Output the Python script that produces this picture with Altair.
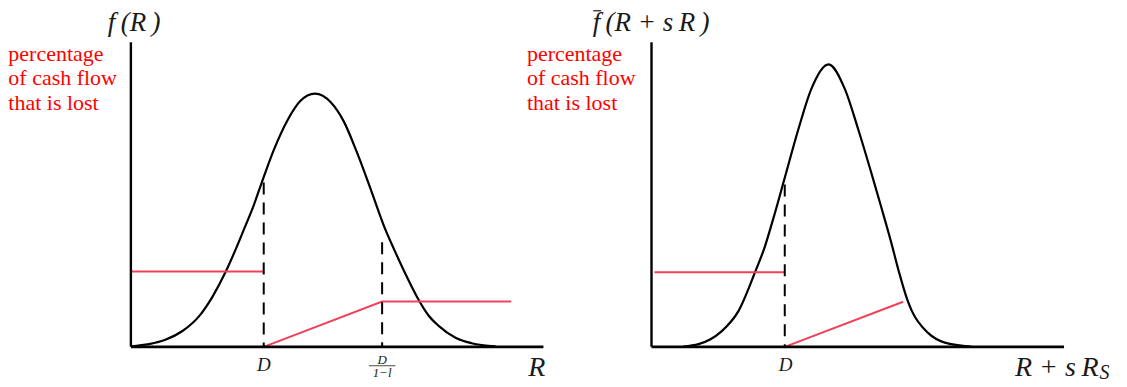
import altair as alt
import pandas as pd

SERIF = "Liberation Serif, Times New Roman, DejaVu Serif, serif"
RED_TEXT = "#ff0000"
RED_LINE = "#f0405a"
INK = "#1a1a1a"

# Both panels use the same units: x 0..100 along each horizontal axis, y 0..100 up each vertical axis.
# ---------- left panel: f(R)
L_CURVE_X = [0, 4.4, 8.5, 12.5, 16.5, 19.8, 23.0, 25.4, 27.6, 29.4, 32.0, 34.7, 38.1, 41.0, 44.6,
             48.5, 51.6, 54.8, 58.4, 61.6, 63.8, 66.6, 69.6, 72.2, 74.6, 78.7, 82.6, 88.4]
L_CURVE_Y = [0.2, 0.9, 2.4, 5.2, 10.0, 16.5, 24.7, 32.0, 39.2, 45.1, 55.0, 64.8, 74.7, 80.6, 83.1,
             80.2, 74.0, 63.8, 50.7, 38.8, 32.0, 23.8, 15.8, 10.2, 6.9, 3.0, 1.2, 0.2]
L_RED_SEG = ["flat", "flat", "ramp", "ramp", "ramp"]
L_RED_X = [0, 32.2, 32.2, 60.9, 92.2]
L_RED_Y = [24.7, 24.7, 0, 14.9, 14.9]
L_DASH_X = [32.2, 60.9]
L_DASH_TOP = [53.9, 34.3]

# ---------- right panel: f-bar(R + sR)
R_CURVE_X = [7.7, 11.4, 14.3, 16.9, 21.1, 25.1, 27.5, 29.5, 32.3, 35.6, 38.7, 42.9, 46.9, 50.1,
             53.3, 55.7, 58.1, 60.0, 62.0, 63.1, 67.1, 71.1, 77.5]
R_CURVE_Y = [0.1, 0.9, 2.5, 5.0, 11.8, 24.5, 33.0, 42.0, 55.5, 71.4, 84.5, 92.7, 84.5, 71.4,
             57.0, 45.8, 34.3, 24.5, 15.5, 11.8, 4.5, 1.4, 0.1]
R_RED_SEG = ["flat", "flat", "ramp", "ramp"]
R_RED_X = [0.7, 32.3, 32.3, 61.0]
R_RED_Y = [24.5, 24.5, 0, 14.8]
R_DASH_X = [32.3]
R_DASH_TOP = [53.3]

# ---------- axes of each panel
AXIS_LEN = 100

# ---------- texts
LOSS_LINES = ["percentage", "of cash flow", "that is lost"]
LOSS_Y = [93.7, 85.8, 77.6]
L_LOSS_X = -29.7
R_LOSS_X = -30.2

L_TITLE = ["f\u2009(R\u2009)"]
L_TITLE_X = [0.8]
R_TITLE = ["f\u2009(R + s\u2009R\u2009)"]
R_TITLE_X = [-0.1]
TITLE_Y = [103.5]
R_TITLE_BAR_X = [-14.1, -12.2]
R_TITLE_BAR_Y = [110.3, 110.3]

L_TICK_X = [32.2]
R_TICK_X = [32.5]
TICK_LABEL = ["D"]
TICK_Y = [-7.8]

FRAC_NUM = ["D"]
FRAC_DEN = ["1\u2212l"]
FRAC_X = [60.9]
FRAC_NUM_Y = [-5.6]
FRAC_DEN_Y = [-10.0]
FRAC_BAR_X = [57.7, 64.1]
FRAC_BAR_Y = [-6.2, -6.2]

L_AXIS_LABEL = ["R"]
L_AXIS_LABEL_X = [98.4]
R_AXIS_LABEL = ["R + s\u2009R"]
R_AXIS_LABEL_X = [88.1]
AXIS_LABEL_Y = [-9.5]
R_AXIS_SUB = ["S"]
R_AXIS_SUB_X = [108.6]
R_AXIS_SUB_Y = [-10.6]

# layout: where each panel's origin sits along the shared x scale
PANEL_OFFSET = {"left": 0.0, "right": 126.2}
X_DOMAIN = [0, 226.2]
VIEW_W, VIEW_H = 934, 305

XS = alt.Scale(domain=X_DOMAIN, nice=False, zero=False)
YS = alt.Scale(domain=[0, 100], nice=False, zero=False)


def X(field="xp"):
    return alt.X(f"{field}:Q", scale=XS, axis=None)


def Y(field="y"):
    return alt.Y(f"{field}:Q", scale=YS, axis=None)


def frame(panel, **cols):
    df = pd.DataFrame(cols)
    for c in list(df.columns):
        if c.startswith("x"):
            df[c.replace("x", "xp", 1)] = df[c] + PANEL_OFFSET[panel]
    return df


def text_layer(panel, xs, ys, labels, size, color=INK, italic=True, align="center"):
    df = frame(panel, x=xs, y=ys, label=labels)
    kw = dict(font=SERIF, fontSize=size, color=color, align=align, baseline="alphabetic")
    if italic:
        kw["fontStyle"] = "italic"
    return alt.Chart(df).mark_text(**kw).encode(x=X(), y=Y(), text="label:N")


def small_line(panel, xs, ys, width):
    return alt.Chart(frame(panel, x=xs, y=ys)).mark_line(
        color=INK, strokeWidth=width).encode(x=X(), y=Y())


def panel_layers(panel, cx, cy, rseg, rx, ry, dx, dtop, loss_x):
    axes_h = alt.Chart(frame(panel, x=[0], x2=[AXIS_LEN], y=[0])).mark_rule(
        color="black", strokeWidth=2.6).encode(x=X(), x2=alt.X2("xp2:Q"), y=Y())
    axes_v = alt.Chart(frame(panel, x=[0], y=[0], y2=[AXIS_LEN])).mark_rule(
        color="black", strokeWidth=2.4).encode(x=X(), y=Y(), y2=alt.Y2("y2:Q"))
    curve = alt.Chart(frame(panel, x=cx, y=cy)).mark_line(
        color="black", strokeWidth=2.2, interpolate="monotone").encode(x=X(), y=Y())
    red = alt.Chart(frame(panel, x=rx, y=ry, seg=rseg)).mark_line(
        color=RED_LINE, strokeWidth=2).encode(x=X(), y=Y(), detail="seg:N")
    dash = alt.Chart(frame(panel, x=dx, top=dtop, bottom=[0] * len(dx))).mark_rule(
        color="black", strokeWidth=2, strokeDash=[12, 8]).encode(
        x=X(), y=Y("top"), y2=alt.Y2("bottom:Q"))
    loss = text_layer(panel, [loss_x] * 3, LOSS_Y, LOSS_LINES, 22, color=RED_TEXT,
                      italic=False, align="left")
    return [curve, red, dash, axes_h, axes_v, loss]


layers = panel_layers("left", L_CURVE_X, L_CURVE_Y, L_RED_SEG, L_RED_X, L_RED_Y,
                      L_DASH_X, L_DASH_TOP, L_LOSS_X)
layers += [
    text_layer("left", L_TITLE_X, TITLE_Y, L_TITLE, 27),
    text_layer("left", L_TICK_X, TICK_Y, TICK_LABEL, 19),
    text_layer("left", FRAC_X, FRAC_NUM_Y, FRAC_NUM, 13),
    text_layer("left", FRAC_X, FRAC_DEN_Y, FRAC_DEN, 13),
    small_line("left", FRAC_BAR_X, FRAC_BAR_Y, 0.8),
    text_layer("left", L_AXIS_LABEL_X, AXIS_LABEL_Y, L_AXIS_LABEL, 28),
]
layers += panel_layers("right", R_CURVE_X, R_CURVE_Y, R_RED_SEG, R_RED_X, R_RED_Y,
                       R_DASH_X, R_DASH_TOP, R_LOSS_X)
layers += [
    text_layer("right", R_TITLE_X, TITLE_Y, R_TITLE, 27),
    small_line("right", R_TITLE_BAR_X, R_TITLE_BAR_Y, 1.2),
    text_layer("right", R_TICK_X, TICK_Y, TICK_LABEL, 19),
    text_layer("right", R_AXIS_LABEL_X, AXIS_LABEL_Y, R_AXIS_LABEL, 28, align="left"),
    text_layer("right", R_AXIS_SUB_X, R_AXIS_SUB_Y, R_AXIS_SUB, 20, align="left"),
]

chart = alt.layer(*layers).properties(
    width=VIEW_W, height=VIEW_H,
    padding={"left": 123, "top": 34, "right": 55, "bottom": 38},
    autosize=alt.AutoSizeParams(type="none"),
    background="white",
).configure_view(stroke=None)

chart.save("out.html", embed_options={"renderer": "svg", "actions": False})
